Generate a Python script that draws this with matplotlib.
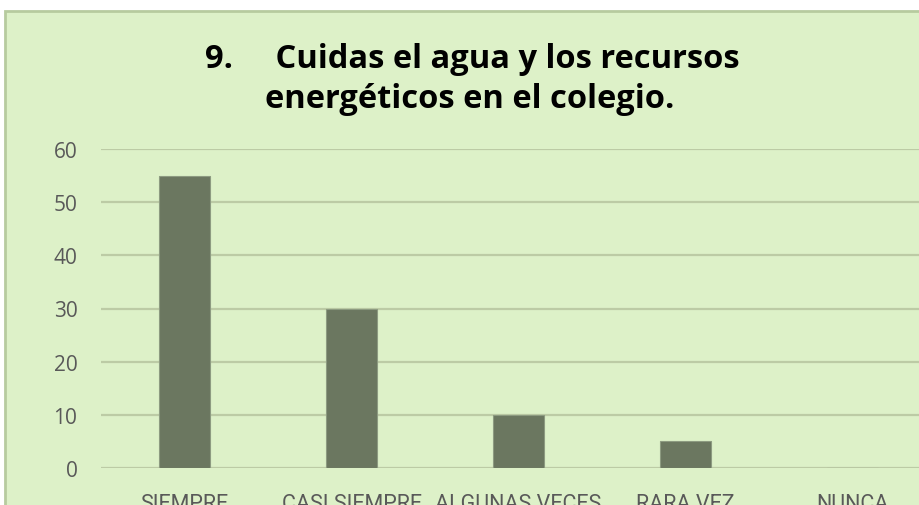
import matplotlib
matplotlib.use("Agg")
import matplotlib.pyplot as plt
from matplotlib.patches import Rectangle

# data
categories = ["SIEMPRE", "CASI SIEMPRE", "ALGUNAS VECES", "RARA VEZ", "NUNCA"]
values = [55, 30, 10, 5, 0]
yticks = [0, 10, 20, 30, 40, 50, 60]

title_1 = "9.     Cuidas el agua y los recursos"
title_2 = "energéticos en el colegio."

panel_bg = "#ddf1c8"
panel_edge = "#b7cb9f"
bar_color = "#6b7760"
grid_color = "#bccba5"
label_color = "#595959"

W, H = 919, 506
fig = plt.figure(figsize=(W / 100, H / 100), dpi=100)
fig.patch.set_facecolor("white")

# green chart panel, cut off on the right and bottom
fig.patches.append(Rectangle((5 / W, -0.1), 1.2, (H - 12) / H + 0.1,
                             transform=fig.transFigure, facecolor=panel_bg,
                             edgecolor=panel_edge, linewidth=2, zorder=-10))

# plot area: x from 101px, 167px per category; y 0 at 469px, 60 at 150px
ax = fig.add_axes([101 / W, (H - 469) / H, 5 * 167 / W, (469 - 150) / H])
ax.set_facecolor("none")
ax.bar(range(len(categories)), values, width=0.31, color=bar_color,
       edgecolor="#8d9b81", linewidth=0.8, zorder=3)
ax.set_xlim(-0.5, len(categories) - 0.5)
ax.set_ylim(0, 60)
ax.set_yticks(yticks)
for v in yticks:
    ax.axhline(v, color=grid_color, linewidth=1.6, zorder=1)
for s in ax.spines.values():
    s.set_visible(False)
ax.set_xticks(range(len(categories)))
ax.set_xticklabels(categories, family="Roboto", fontsize=15.5, color=label_color)
ax.set_yticklabels([str(v) for v in yticks], family="Open Sans",
                   fontsize=15, color=label_color)
ax.tick_params(axis="x", length=0, pad=18)
ax.tick_params(axis="y", length=0, pad=17)

fig.text(472 / W, 1 - 60 / H, title_1, ha="center", va="center",
         family="Open Sans", fontweight="bold", fontsize=23.5, color="black")
fig.text(470 / W, 1 - 100 / H, title_2, ha="center", va="center",
         family="Open Sans", fontweight="bold", fontsize=23.5, color="black")

fig.savefig("out.png", dpi=100, facecolor=fig.get_facecolor())
